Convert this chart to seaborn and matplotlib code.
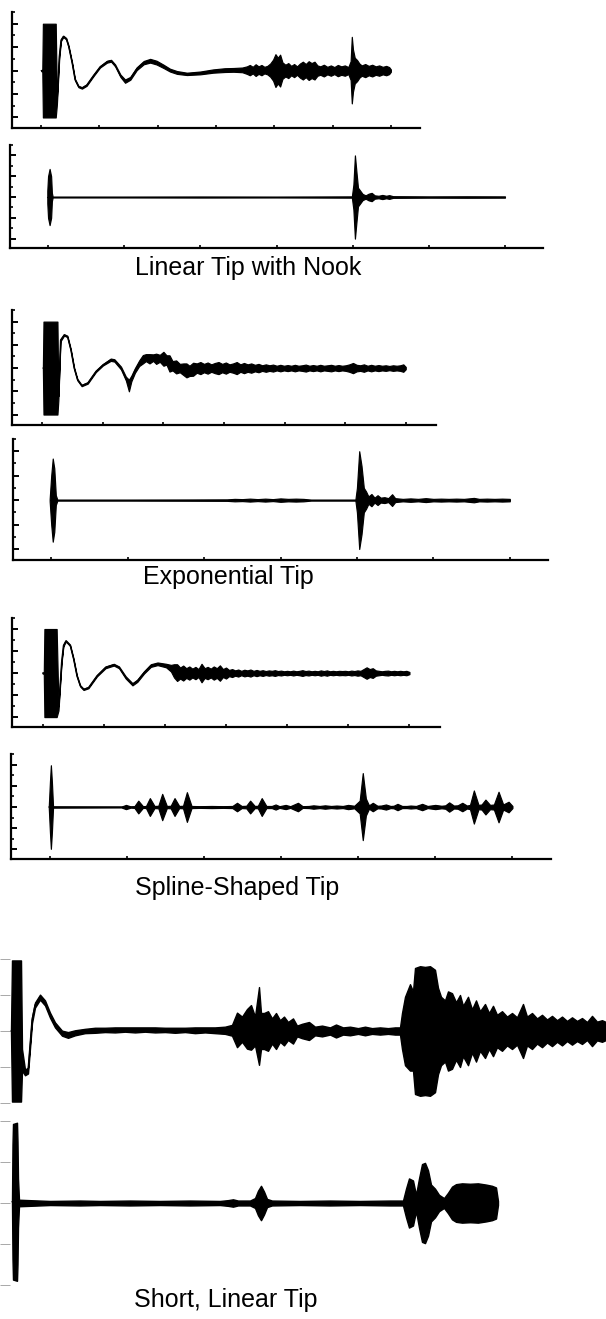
import matplotlib
matplotlib.use("Agg")
import matplotlib.pyplot as plt
from matplotlib.ticker import MultipleLocator
import seaborn as sns

sns.set_theme(style="ticks")
plt.rcParams['font.family'] = ['Liberation Sans', 'DejaVu Sans']

# captions under each pair of traces
tip_names = ["Linear Tip with Nook", "Exponential Tip", "Spline-Shaped Tip", "Short, Linear Tip"]

# each trace: (time, centre, half-width of the noisy band)
trace1 = [
    (0.00, 0.00, 0.02), (0.02, 0.00, 0.05), (0.03, 0.00, 2.00), (0.25, 0.00, 2.00),
    (0.27, -1.30, 0.15), (0.31, 0.60, 0.08), (0.34, 1.30, 0.04), (0.38, 1.46, 0.03),
    (0.43, 1.36, 0.03), (0.47, 1.04, 0.03), (0.53, 0.33, 0.03), (0.58, -0.38, 0.03),
    (0.64, -0.68, 0.03), (0.70, -0.74, 0.03), (0.78, -0.62, 0.03), (0.90, -0.20, 0.03),
    (1.01, 0.16, 0.03), (1.13, 0.38, 0.04), (1.20, 0.42, 0.04), (1.27, 0.22, 0.04),
    (1.36, -0.22, 0.05), (1.44, -0.45, 0.07), (1.53, -0.33, 0.06), (1.64, 0.08, 0.06),
    (1.76, 0.34, 0.07), (1.87, 0.42, 0.08), (1.98, 0.34, 0.08), (2.10, 0.18, 0.07),
    (2.21, 0.02, 0.06), (2.33, -0.08, 0.06), (2.50, -0.14, 0.05), (2.73, -0.10, 0.06),
    (2.95, -0.02, 0.07), (3.15, 0.02, 0.08), (3.30, 0.03, 0.08), (3.45, 0.03, 0.10),
    (3.53, 0.02, 0.16), (3.58, 0.02, 0.22), (3.63, 0.02, 0.14), (3.68, 0.02, 0.25),
    (3.73, 0.02, 0.16), (3.78, 0.02, 0.22), (3.83, 0.02, 0.14), (3.88, 0.02, 0.18),
    (3.93, 0.02, 0.28), (3.98, 0.02, 0.45), (4.02, 0.00, 0.70), (4.06, 0.00, 0.55),
    (4.10, 0.00, 0.68), (4.14, 0.00, 0.35), (4.19, 0.00, 0.25), (4.24, 0.00, 0.32),
    (4.29, 0.00, 0.20), (4.34, 0.00, 0.28), (4.39, 0.00, 0.18), (4.44, 0.00, 0.30),
    (4.49, 0.00, 0.38), (4.54, 0.00, 0.28), (4.59, 0.00, 0.40), (4.64, 0.00, 0.32),
    (4.69, 0.00, 0.38), (4.74, 0.00, 0.22), (4.79, 0.00, 0.18), (4.85, 0.00, 0.25),
    (4.91, 0.00, 0.16), (4.97, 0.00, 0.22), (5.03, 0.00, 0.15), (5.09, 0.00, 0.24),
    (5.15, 0.00, 0.18), (5.21, 0.00, 0.22), (5.27, 0.00, 0.15), (5.31, 0.00, 0.40),
    (5.33, 0.02, 1.42), (5.35, 0.00, 0.90), (5.38, 0.00, 0.55), (5.42, 0.00, 0.45),
    (5.46, 0.00, 0.30), (5.50, 0.00, 0.22), (5.56, 0.00, 0.28), (5.62, 0.00, 0.20),
    (5.68, 0.00, 0.25), (5.74, 0.00, 0.18), (5.80, 0.00, 0.22), (5.86, 0.00, 0.16),
    (5.92, 0.00, 0.20), (5.97, 0.00, 0.15), (6.00, 0.00, 0.05),
]

trace2 = [
    (-0.01, 0.0, 0.30), (0.00, 0.0, 1.00), (0.02, 0.0, 1.35), (0.04, 0.0, 1.00),
    (0.05, 0.0, 0.20), (0.06, 0.0, 0.02), (1.00, 0.0, 0.02), (2.00, 0.0, 0.025),
    (3.00, 0.0, 0.02), (3.99, 0.0, 0.03), (4.01, 0.0, 0.60), (4.03, 0.0, 2.00),
    (4.05, 0.0, 1.20), (4.07, 0.0, 0.45), (4.10, 0.0, 0.30), (4.13, 0.0, 0.15),
    (4.17, 0.0, 0.08), (4.21, 0.0, 0.16), (4.25, 0.0, 0.20), (4.29, 0.0, 0.08),
    (4.34, 0.0, 0.06), (4.39, 0.0, 0.10), (4.44, 0.0, 0.06), (4.48, 0.0, 0.09),
    (4.53, 0.0, 0.04), (5.00, 0.0, 0.03), (5.50, 0.0, 0.035), (6.00, 0.0, 0.03),
]

trace3 = [
    (0.01, 0.00, 0.03), (0.02, 0.00, 2.00), (0.25, 0.00, 2.00), (0.265, -1.30, 0.10),
    (0.30, 1.20, 0.05), (0.36, 1.43, 0.03), (0.415, 1.36, 0.03), (0.47, 0.79, 0.03),
    (0.525, 0.00, 0.03), (0.58, -0.50, 0.03), (0.65, -0.75, 0.03), (0.75, -0.64, 0.03),
    (0.885, -0.14, 0.03), (1.00, 0.14, 0.03), (1.13, 0.36, 0.05), (1.19, 0.33, 0.05),
    (1.30, 0.00, 0.06), (1.38, -0.45, 0.08), (1.43, -0.75, 0.25), (1.47, -0.45, 0.12),
    (1.53, -0.10, 0.10), (1.60, 0.21, 0.12), (1.66, 0.38, 0.18), (1.71, 0.45, 0.15),
    (1.77, 0.40, 0.20), (1.83, 0.45, 0.14), (1.88, 0.40, 0.22), (1.94, 0.42, 0.15),
    (2.00, 0.40, 0.30), (2.05, 0.35, 0.20), (2.10, 0.20, 0.35), (2.15, 0.10, 0.20),
    (2.21, 0.05, 0.28), (2.27, 0.00, 0.18), (2.33, -0.05, 0.25), (2.38, -0.10, 0.30),
    (2.43, -0.12, 0.22), (2.49, -0.05, 0.28), (2.55, 0.00, 0.20), (2.61, 0.00, 0.26),
    (2.67, 0.00, 0.18), (2.73, 0.00, 0.24), (2.79, 0.00, 0.16), (2.85, 0.00, 0.22),
    (2.91, 0.00, 0.26), (2.97, 0.00, 0.18), (3.03, 0.00, 0.24), (3.09, 0.00, 0.16),
    (3.15, 0.00, 0.20), (3.21, 0.00, 0.26), (3.27, 0.00, 0.16), (3.33, 0.00, 0.22),
    (3.39, 0.00, 0.16), (3.45, 0.00, 0.20), (3.51, 0.00, 0.14), (3.57, 0.00, 0.18),
    (3.63, 0.00, 0.12), (3.69, 0.00, 0.16), (3.75, 0.00, 0.12), (3.81, 0.00, 0.15),
    (3.87, 0.00, 0.10), (3.93, 0.00, 0.14), (3.99, 0.00, 0.10), (4.05, 0.00, 0.13),
    (4.11, 0.00, 0.10), (4.17, 0.00, 0.14), (4.23, 0.00, 0.10), (4.29, 0.00, 0.12),
    (4.35, 0.00, 0.15), (4.41, 0.00, 0.10), (4.47, 0.00, 0.13), (4.53, 0.00, 0.10),
    (4.59, 0.00, 0.14), (4.65, 0.00, 0.10), (4.71, 0.00, 0.12), (4.77, 0.00, 0.14),
    (4.83, 0.00, 0.10), (4.89, 0.00, 0.13), (4.95, 0.00, 0.10), (5.01, 0.00, 0.12),
    (5.07, 0.00, 0.16), (5.13, 0.00, 0.22), (5.19, 0.00, 0.14), (5.25, 0.00, 0.12),
    (5.31, 0.00, 0.16), (5.37, 0.00, 0.10), (5.43, 0.00, 0.14), (5.49, 0.00, 0.10),
    (5.55, 0.00, 0.13), (5.61, 0.00, 0.10), (5.67, 0.00, 0.12), (5.73, 0.00, 0.09),
    (5.79, 0.00, 0.12), (5.85, 0.00, 0.10), (5.91, 0.00, 0.12), (5.96, 0.00, 0.16),
    (6.00, 0.00, 0.05),
]

trace4 = [
    (-0.02, 0.0, 0.05), (0.00, 0.0, 1.00), (0.02, 0.0, 1.70), (0.04, 0.0, 1.30),
    (0.06, 0.0, 0.20), (0.08, 0.0, 0.02), (1.00, 0.0, 0.02), (1.80, 0.0, 0.025),
    (2.30, 0.0, 0.03), (2.40, 0.0, 0.05), (2.50, 0.0, 0.04), (2.60, 0.0, 0.06),
    (2.70, 0.0, 0.04), (2.80, 0.0, 0.06), (2.90, 0.0, 0.04), (3.00, 0.0, 0.07),
    (3.10, 0.0, 0.05), (3.20, 0.0, 0.06), (3.30, 0.0, 0.05), (3.40, 0.0, 0.02),
    (3.98, 0.0, 0.02), (4.00, 0.0, 0.50), (4.03, 0.0, 2.00), (4.06, 0.0, 1.40),
    (4.09, 0.0, 0.50), (4.12, 0.0, 0.35), (4.15, 0.0, 0.15), (4.19, 0.0, 0.25),
    (4.23, 0.0, 0.10), (4.27, 0.0, 0.20), (4.31, 0.0, 0.10), (4.36, 0.0, 0.12),
    (4.41, 0.0, 0.08), (4.46, 0.0, 0.24), (4.50, 0.0, 0.08), (4.60, 0.0, 0.05),
    (4.70, 0.0, 0.07), (4.80, 0.0, 0.05), (4.90, 0.0, 0.08), (5.00, 0.0, 0.05),
    (5.10, 0.0, 0.06), (5.20, 0.0, 0.05), (5.30, 0.0, 0.06), (5.40, 0.0, 0.05),
    (5.53, 0.0, 0.09), (5.60, 0.0, 0.05), (5.70, 0.0, 0.06), (5.80, 0.0, 0.05),
    (5.90, 0.0, 0.06), (6.00, 0.0, 0.05),
]

trace5 = [
    (0.00, 0.00, 0.02), (0.02, 0.00, 0.04), (0.03, 0.00, 2.00), (0.23, 0.00, 2.00),
    (0.26, -1.60, 0.10), (0.31, 0.50, 0.05), (0.34, 1.25, 0.04), (0.38, 1.46, 0.03),
    (0.45, 1.26, 0.03), (0.505, 0.65, 0.03), (0.56, -0.12, 0.03), (0.615, -0.58, 0.03),
    (0.67, -0.74, 0.03), (0.75, -0.66, 0.03), (0.89, -0.12, 0.03), (1.03, 0.26, 0.04),
    (1.165, 0.38, 0.04), (1.25, 0.26, 0.04), (1.36, -0.20, 0.05), (1.47, -0.51, 0.05),
    (1.55, -0.35, 0.05), (1.66, 0.03, 0.05), (1.77, 0.34, 0.06), (1.88, 0.42, 0.06),
    (2.02, 0.34, 0.08), (2.10, 0.22, 0.15), (2.15, 0.10, 0.30), (2.20, 0.02, 0.38),
    (2.25, 0.00, 0.25), (2.30, 0.00, 0.34), (2.35, 0.00, 0.22), (2.40, 0.00, 0.30),
    (2.45, 0.00, 0.20), (2.50, 0.00, 0.28), (2.55, 0.00, 0.18), (2.60, 0.00, 0.42),
    (2.65, 0.00, 0.22), (2.70, 0.00, 0.28), (2.75, 0.00, 0.20), (2.80, 0.00, 0.30),
    (2.85, 0.00, 0.22), (2.90, 0.00, 0.35), (2.95, 0.00, 0.18), (3.00, 0.00, 0.25),
    (3.05, 0.00, 0.14), (3.10, 0.00, 0.18), (3.15, 0.00, 0.12), (3.20, 0.00, 0.16),
    (3.25, 0.00, 0.10), (3.30, 0.00, 0.15), (3.35, 0.00, 0.12), (3.40, 0.00, 0.16),
    (3.45, 0.00, 0.10), (3.50, 0.00, 0.14), (3.55, 0.00, 0.10), (3.60, 0.00, 0.13),
    (3.65, 0.00, 0.09), (3.70, 0.00, 0.12), (3.75, 0.00, 0.10), (3.80, 0.00, 0.13),
    (3.85, 0.00, 0.09), (3.90, 0.00, 0.11), (3.95, 0.00, 0.08), (4.00, 0.00, 0.10),
    (4.05, 0.00, 0.08), (4.10, 0.00, 0.11), (4.15, 0.00, 0.08), (4.20, 0.00, 0.10),
    (4.25, 0.00, 0.13), (4.30, 0.00, 0.09), (4.35, 0.00, 0.11), (4.40, 0.00, 0.08),
    (4.45, 0.00, 0.10), (4.50, 0.00, 0.08), (4.55, 0.00, 0.12), (4.60, 0.00, 0.09),
    (4.65, 0.00, 0.12), (4.70, 0.00, 0.08), (4.75, 0.00, 0.10), (4.80, 0.00, 0.08),
    (4.85, 0.00, 0.10), (4.90, 0.00, 0.09), (4.95, 0.00, 0.10), (5.00, 0.00, 0.08),
    (5.05, 0.00, 0.11), (5.10, 0.00, 0.09), (5.15, 0.00, 0.12), (5.20, 0.00, 0.10),
    (5.25, 0.00, 0.18), (5.30, 0.00, 0.26), (5.35, 0.00, 0.18), (5.40, 0.00, 0.22),
    (5.45, 0.00, 0.12), (5.50, 0.00, 0.10), (5.55, 0.00, 0.08), (5.60, 0.00, 0.10),
    (5.65, 0.00, 0.11), (5.70, 0.00, 0.08), (5.75, 0.00, 0.10), (5.80, 0.00, 0.08),
    (5.85, 0.00, 0.10), (5.90, 0.00, 0.08), (5.95, 0.00, 0.10), (6.00, 0.00, 0.05),
]

trace6 = [
    (-0.01, 0.0, 0.05), (0.005, 0.0, 1.20), (0.017, 0.0, 1.97), (0.03, 0.0, 1.20),
    (0.045, 0.0, 0.03), (0.93, 0.0, 0.02), (0.99, 0.0, 0.10), (1.05, 0.0, 0.03),
    (1.10, 0.0, 0.04), (1.15, 0.0, 0.30), (1.21, 0.0, 0.04), (1.25, 0.0, 0.05),
    (1.30, 0.0, 0.42), (1.36, 0.0, 0.05), (1.41, 0.0, 0.06), (1.46, 0.0, 0.62),
    (1.52, 0.0, 0.05), (1.57, 0.0, 0.06), (1.62, 0.0, 0.42), (1.68, 0.0, 0.05),
    (1.73, 0.0, 0.06), (1.78, 0.0, 0.70), (1.84, 0.0, 0.05), (1.95, 0.0, 0.04),
    (2.10, 0.0, 0.05), (2.25, 0.0, 0.04), (2.37, 0.0, 0.05), (2.43, 0.0, 0.20),
    (2.49, 0.0, 0.05), (2.55, 0.0, 0.06), (2.60, 0.0, 0.30), (2.66, 0.0, 0.05),
    (2.70, 0.0, 0.06), (2.75, 0.0, 0.42), (2.81, 0.0, 0.05), (2.88, 0.0, 0.05),
    (2.93, 0.0, 0.12), (2.98, 0.0, 0.04), (3.06, 0.0, 0.10), (3.12, 0.0, 0.04),
    (3.22, 0.0, 0.20), (3.28, 0.0, 0.04), (3.36, 0.0, 0.05), (3.42, 0.0, 0.08),
    (3.50, 0.0, 0.05), (3.57, 0.0, 0.08), (3.65, 0.0, 0.05), (3.72, 0.0, 0.07),
    (3.80, 0.0, 0.05), (3.87, 0.0, 0.10), (3.95, 0.0, 0.06), (4.02, 0.0, 0.30),
    (4.06, 0.02, 1.58), (4.10, 0.0, 0.40), (4.14, 0.0, 0.08), (4.19, 0.0, 0.20),
    (4.25, 0.0, 0.06), (4.30, 0.0, 0.07), (4.36, 0.0, 0.12), (4.42, 0.0, 0.05),
    (4.46, 0.0, 0.06), (4.51, 0.0, 0.15), (4.57, 0.0, 0.05), (4.63, 0.0, 0.05),
    (4.68, 0.0, 0.07), (4.75, 0.0, 0.05), (4.83, 0.0, 0.15), (4.90, 0.0, 0.05),
    (5.00, 0.0, 0.10), (5.08, 0.0, 0.06), (5.13, 0.0, 0.08), (5.18, 0.0, 0.22),
    (5.24, 0.0, 0.07), (5.29, 0.0, 0.08), (5.35, 0.0, 0.20), (5.41, 0.0, 0.07),
    (5.45, 0.0, 0.10), (5.50, 0.0, 0.78), (5.56, 0.0, 0.10), (5.60, 0.0, 0.12),
    (5.65, 0.0, 0.35), (5.71, 0.0, 0.10), (5.76, 0.0, 0.12), (5.82, 0.0, 0.72),
    (5.88, 0.0, 0.12), (5.95, 0.0, 0.25), (6.00, 0.0, 0.05),
]

trace7 = [
    (0.11, 0.00, 0.05), (0.12, 0.00, 1.96), (0.21, 0.00, 1.96), (0.22, -0.80, 0.30),
    (0.25, -1.15, 0.08), (0.28, -1.10, 0.08), (0.30, -0.40, 0.08), (0.32, 0.30, 0.08),
    (0.35, 0.72, 0.07), (0.40, 0.94, 0.07), (0.45, 0.78, 0.07), (0.50, 0.44, 0.07),
    (0.55, 0.17, 0.07), (0.62, -0.06, 0.07), (0.68, -0.11, 0.08), (0.75, -0.05, 0.07),
    (0.85, 0.00, 0.06), (0.95, 0.02, 0.07), (1.05, 0.03, 0.06), (1.15, 0.03, 0.07),
    (1.25, 0.04, 0.06), (1.35, 0.03, 0.07), (1.45, 0.04, 0.06), (1.55, 0.03, 0.07),
    (1.65, 0.03, 0.06), (1.75, 0.02, 0.07), (1.85, 0.03, 0.06), (1.95, 0.02, 0.08),
    (2.05, 0.03, 0.07), (2.15, 0.02, 0.08), (2.25, 0.02, 0.10), (2.32, 0.02, 0.15),
    (2.37, 0.03, 0.48), (2.42, 0.05, 0.35), (2.47, 0.06, 0.55), (2.51, 0.10, 0.62),
    (2.55, 0.00, 0.40), (2.59, 0.14, 1.08), (2.61, 0.00, 0.50), (2.64, 0.00, 0.50),
    (2.68, 0.00, 0.55), (2.72, 0.00, 0.35), (2.76, 0.00, 0.50), (2.80, 0.00, 0.30),
    (2.84, 0.00, 0.40), (2.88, 0.00, 0.25), (2.93, 0.00, 0.35), (2.97, 0.00, 0.15),
    (3.02, 0.00, 0.20), (3.09, 0.00, 0.25), (3.15, 0.00, 0.12), (3.22, 0.00, 0.15),
    (3.30, 0.00, 0.10), (3.36, 0.00, 0.18), (3.43, 0.00, 0.10), (3.50, 0.00, 0.12),
    (3.58, 0.00, 0.08), (3.65, 0.00, 0.12), (3.72, 0.00, 0.08), (3.80, 0.00, 0.10),
    (3.88, 0.00, 0.08), (3.95, 0.00, 0.10), (4.00, 0.00, 0.10), (4.02, 0.00, 0.50),
    (4.05, 0.00, 0.95), (4.10, 0.10, 1.20), (4.13, 0.00, 1.10), (4.15, 0.00, 1.75),
    (4.20, 0.00, 1.80), (4.25, 0.00, 1.78), (4.30, 0.00, 1.80), (4.35, 0.00, 1.70),
    (4.38, 0.00, 1.20), (4.41, 0.00, 0.95), (4.45, 0.00, 0.85), (4.48, 0.00, 1.10),
    (4.52, 0.00, 1.05), (4.56, 0.00, 0.80), (4.60, 0.00, 1.00), (4.63, 0.00, 0.70),
    (4.68, 0.00, 0.95), (4.72, 0.00, 0.60), (4.76, 0.00, 0.85), (4.80, 0.00, 0.55),
    (4.85, 0.00, 0.75), (4.89, 0.00, 0.50), (4.93, 0.00, 0.70), (4.97, 0.00, 0.45),
    (5.02, 0.00, 0.55), (5.07, 0.00, 0.40), (5.12, 0.00, 0.50), (5.17, 0.00, 0.38),
    (5.23, 0.00, 0.75), (5.27, 0.00, 0.40), (5.32, 0.00, 0.50), (5.37, 0.00, 0.35),
    (5.42, 0.00, 0.45), (5.47, 0.00, 0.32), (5.52, 0.00, 0.42), (5.57, 0.00, 0.30),
    (5.62, 0.00, 0.40), (5.67, 0.00, 0.28), (5.72, 0.00, 0.38), (5.77, 0.00, 0.28),
    (5.82, 0.00, 0.36), (5.87, 0.00, 0.25), (5.92, 0.00, 0.42), (5.97, 0.00, 0.26),
    (6.02, 0.00, 0.30), (6.06, 0.00, 0.25),
]

trace8 = [
    (0.12, 0.03, 0.05), (0.125, 0.03, 1.40), (0.13, 0.03, 1.90), (0.17, 0.03, 1.93),
    (0.175, 0.00, 1.50), (0.18, 0.00, 0.60), (0.19, 0.00, 0.08), (0.50, 0.00, 0.05),
    (0.80, 0.00, 0.06), (1.00, 0.00, 0.05), (1.30, 0.00, 0.06), (1.60, 0.00, 0.05),
    (1.90, 0.00, 0.06), (2.20, 0.00, 0.05), (2.28, 0.00, 0.07), (2.33, 0.00, 0.09),
    (2.38, 0.00, 0.06), (2.50, 0.00, 0.06), (2.55, 0.00, 0.12), (2.58, 0.00, 0.30),
    (2.61, 0.00, 0.42), (2.64, 0.00, 0.28), (2.67, 0.00, 0.10), (2.72, 0.00, 0.06),
    (3.00, 0.00, 0.05), (3.30, 0.00, 0.06), (3.60, 0.00, 0.05), (3.90, 0.00, 0.06),
    (4.03, 0.00, 0.06), (4.06, 0.00, 0.35), (4.09, 0.00, 0.60), (4.13, 0.00, 0.55),
    (4.16, 0.00, 0.20), (4.19, 0.00, 0.60), (4.22, 0.00, 0.95), (4.25, 0.00, 0.98),
    (4.28, 0.00, 0.80), (4.31, 0.00, 0.45), (4.35, 0.00, 0.35), (4.39, 0.00, 0.20),
    (4.44, 0.00, 0.12), (4.48, 0.00, 0.25), (4.52, 0.00, 0.40), (4.56, 0.00, 0.46),
    (4.62, 0.00, 0.48), (4.70, 0.00, 0.47), (4.78, 0.00, 0.48), (4.86, 0.00, 0.45),
    (4.92, 0.00, 0.42), (4.96, 0.00, 0.38), (4.98, 0.00, 0.05),
]

W, H = 606, 1319
fig = plt.figure(figsize=(W / 100, H / 100), dpi=100)


def add_panel(left, top, right, bottom):
    return fig.add_axes([left / W, 1 - bottom / H, (right - left) / W, (bottom - top) / H])


def draw_trace(ax, trace, lw):
    xs = [p[0] for p in trace]
    lo = [p[1] - p[2] for p in trace]
    hi = [p[1] + p[2] for p in trace]
    mid = [p[1] for p in trace]
    ax.fill_between(xs, lo, hi, color="black", lw=lw)
    sns.lineplot(x=xs, y=mid, ax=ax, color="black", lw=lw, estimator=None, sort=False)


# framed panels (pixel box: left, top, right, bottom)
framed = [
    (trace1, (12, 12, 420, 128)),
    (trace2, (10, 145, 543, 248)),
    (trace3, (12, 310, 436, 425)),
    (trace4, (13, 439, 548, 560)),
    (trace5, (12, 618, 440, 727)),
    (trace6, (11, 754, 551, 859)),
]

for trace, box in framed:
    ax = add_panel(*box)
    draw_trace(ax, trace, 0.85)
    ax.set_xlim(-0.5, 6.5)
    ax.set_ylim(-2.45, 2.5)
    sns.despine(ax=ax)
    for side in ["left", "bottom"]:
        ax.spines[side].set_linewidth(1.6)
        ax.spines[side].set_color("black")
    ax.xaxis.set_major_locator(MultipleLocator(1))
    ax.yaxis.set_major_locator(MultipleLocator(1))
    ax.yaxis.set_minor_locator(MultipleLocator(0.5))
    ax.tick_params(which="major", direction="in", length=4, width=1.4, color="black",
                   labelleft=False, labelbottom=False)
    ax.tick_params(axis="x", which="major", length=2.5, width=1.2)
    ax.tick_params(axis="y", which="minor", direction="in", length=2.5, width=1.2, color="black")
    ax.tick_params(axis="x", which="minor", length=0)
    ax.set_facecolor("none")

# the short tip: traces without frames, only faint tick marks at the left edge
bare = [
    (trace7, (0, 950, 606, 1112), (-2.25, 2.25)),
    (trace8, (0, 1117, 606, 1289), (-2.1, 2.1)),
]
for trace, box, ylim in bare:
    ax = add_panel(*box)
    draw_trace(ax, trace, 1.0)
    ax.set_xlim(0, 6.06)
    ax.set_ylim(*ylim)
    for s in ax.spines.values():
        s.set_visible(False)
    ax.set_xticks([])
    ax.yaxis.set_major_locator(MultipleLocator(1))
    ax.tick_params(axis="y", direction="in", length=7, width=0.6, color="#9a9a9a", labelleft=False)
    ax.set_facecolor("none")

# captions
caption_pos = [(248, 268), (228, 577), (237, 888), (226, 1300)]
for name, (cx, cy) in zip(tip_names, caption_pos):
    fig.text(cx / W, 1 - cy / H, name, ha="center", va="center", fontsize=18, color="black")

fig.savefig("out.png", dpi=100, facecolor="white")
